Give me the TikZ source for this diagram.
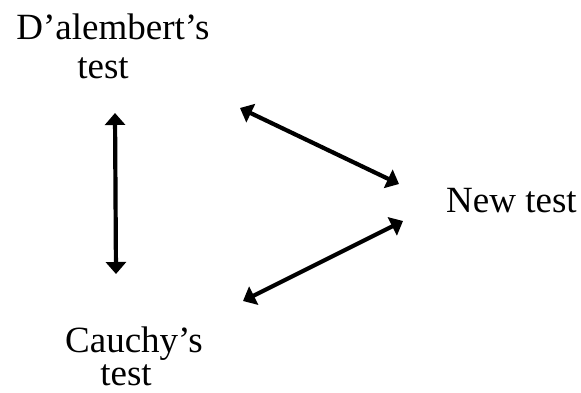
\documentclass[tikz,border=0pt]{standalone}
\usepackage{fontspec}
\setmainfont{Liberation Serif}
\usetikzlibrary{arrows.meta}
\tikzset{
  label text/.style={inner sep=0pt, font=\fontsize{37}{40}\selectfont, text=black},
  link/.style={line width=4.2pt, {Triangle[width=20pt,length=12pt]}-{Triangle[width=20pt,length=12pt]}}
}
\begin{document}
\begin{tikzpicture}[x=1pt,y=-1pt]
  \useasboundingbox (0,0) rectangle (581,392);
  % labels
  \node[label text, anchor=base] (dal1) at (113,39) {D’alembert’s};
  \node[label text, anchor=base] (dal2) at (103,78) {test};
  \node[label text, anchor=base west] (new) at (446,212) {New test};
  \node[label text, anchor=base, text depth=0pt] (cau1) at (134,352) {Cauchy’s};
  \node[label text, anchor=base, text height=0.7em] (cau2) at (126,385) {test};
  % arrow ends
  \coordinate (dalEnd) at (115,113);
  \coordinate (cauEnd) at (116,274);
  \coordinate (dalNew) at (240,108);
  \coordinate (newDal) at (399,184);
  \coordinate (newCau) at (403,221);
  \coordinate (cauNew) at (243,301);
  % connectors
  \draw[link] (dalEnd) -- (cauEnd);
  \draw[link] (dalNew) -- (newDal);
  \draw[link] (newCau) -- (cauNew);
\end{tikzpicture}
\end{document}
